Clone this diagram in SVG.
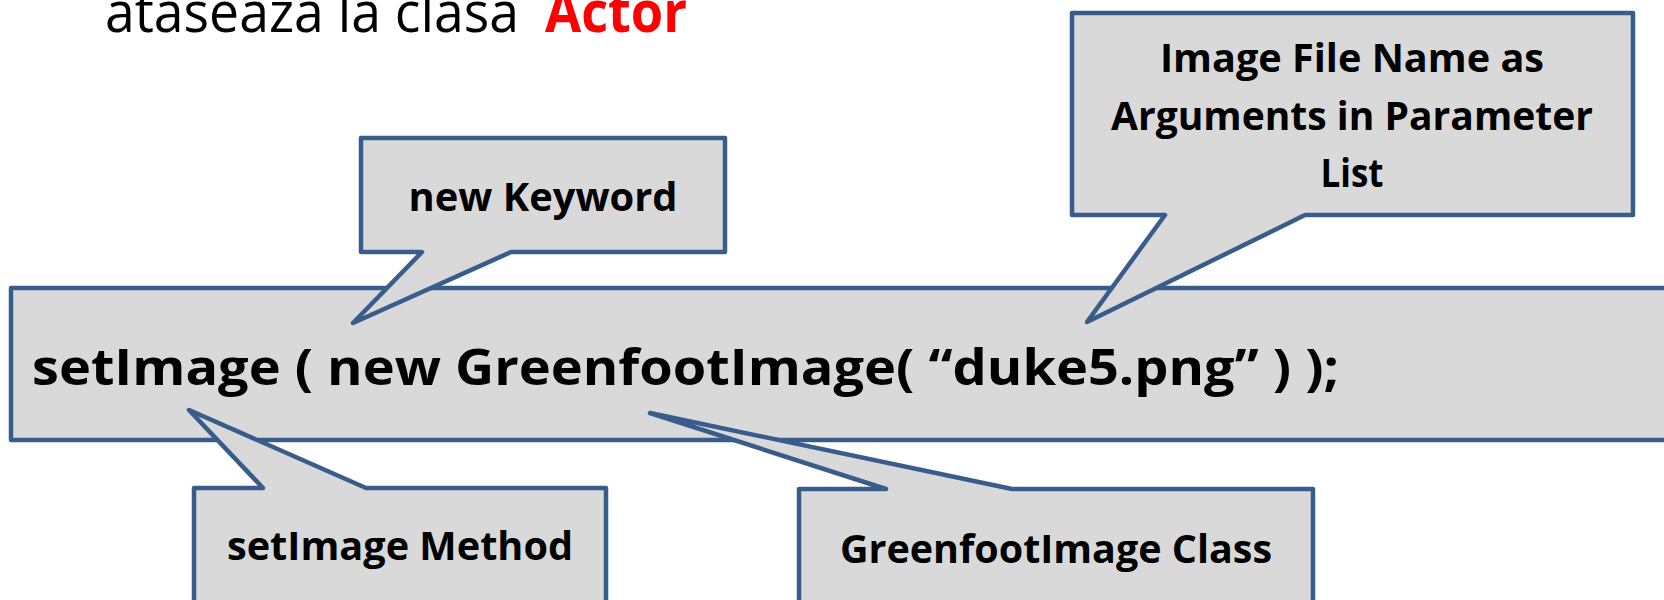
<svg xmlns="http://www.w3.org/2000/svg" width="1664" height="600" viewBox="0 0 1664 600">
<style>
.box{fill:#d9d9d9;stroke:#385d8a;stroke-width:4.5;stroke-linejoin:round}
.lbl{font-family:"Open Sans","Noto Sans","Liberation Sans",sans-serif;font-weight:bold;font-size:40px;fill:#000;text-anchor:middle}
.code{font-family:"Open Sans","Noto Sans","Liberation Sans",sans-serif;font-weight:bold;font-size:50px;fill:#000}
.title{font-family:"Open Sans","Noto Sans","Liberation Sans",sans-serif;font-size:57px;fill:#000}
</style>
<rect width="1664" height="600" fill="#fff"/>
<g id="title">
<text class="title" x="105" y="32"><tspan textLength="414" lengthAdjust="spacingAndGlyphs">ataseaza la clasa</tspan><tspan x="545" font-weight="bold" fill="#ff0000" textLength="142" lengthAdjust="spacingAndGlyphs">Actor</tspan></text>
</g>
<g id="code-line">
<rect class="box" x="11" y="288" width="1680" height="152"/>
<text class="code" x="32" y="385" textLength="1307" lengthAdjust="spacingAndGlyphs">setImage ( new GreenfootImage( “duke5.png” ) );</text>
</g>
<g id="connectors"></g>
<g id="new-keyword">
<path class="box" d="M361,138 H725 V252 H511 L353,323 L422,252 H361 Z"/>
<text class="lbl" x="543" y="211" textLength="269" lengthAdjust="spacingAndGlyphs">new Keyword</text>
</g>
<g id="image-file-name">
<path class="box" d="M1072,13 H1633 V215 H1305 L1087,322 L1165,215 H1072 Z"/>
<text class="lbl" x="1352" y="72" textLength="384" lengthAdjust="spacingAndGlyphs">Image File Name as</text>
<text class="lbl" x="1352" y="130" textLength="482" lengthAdjust="spacingAndGlyphs">Arguments in Parameter</text>
<text class="lbl" x="1352" y="187" textLength="63" lengthAdjust="spacingAndGlyphs">List</text>
</g>
<g id="setimage-method">
<path class="box" d="M194,488 H263 L189,410 L366,488 H606 V625 H194 Z"/>
<text class="lbl" x="400" y="560" textLength="346" lengthAdjust="spacingAndGlyphs">setImage Method</text>
</g>
<g id="greenfootimage-class">
<path class="box" d="M799,489 H886 L650,413 L1012,489 H1313 V625 H799 Z"/>
<text class="lbl" x="1056" y="563" textLength="432" lengthAdjust="spacingAndGlyphs">GreenfootImage Class</text>
</g>
</svg>
